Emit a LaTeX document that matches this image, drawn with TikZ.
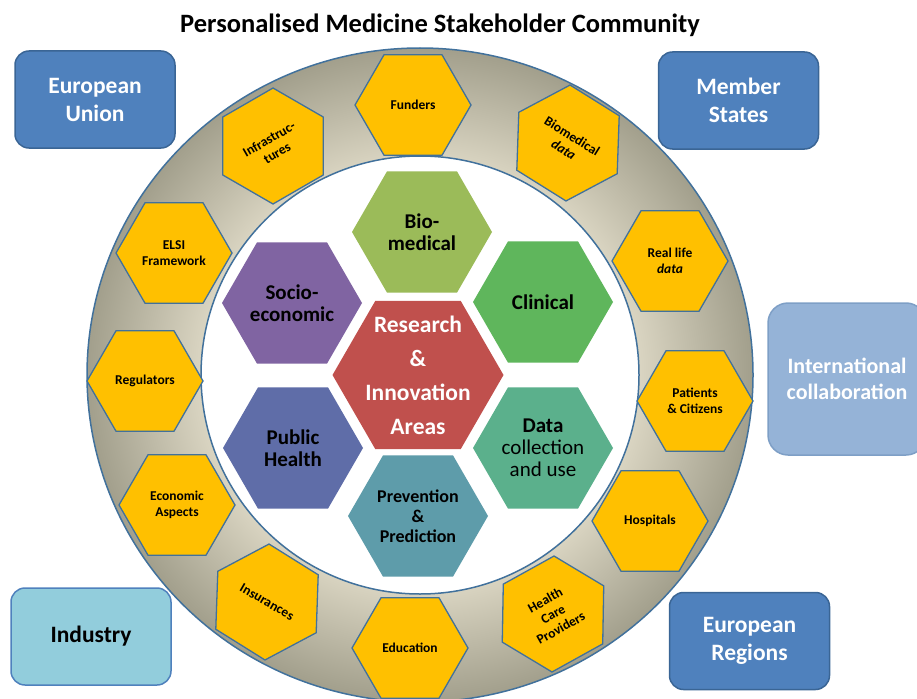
\documentclass[tikz,border=0pt]{standalone}
\usepackage{fontspec}
\setmainfont{Carlito}
\usetikzlibrary{shapes.geometric}

\definecolor{hexyellow}{HTML}{FFC000}
\definecolor{hexedge}{HTML}{41719C}
\definecolor{ringdark}{HTML}{A29F8C}
\definecolor{ringlight}{HTML}{DAD5C2}
\definecolor{ringedge}{HTML}{41719C}
\definecolor{boxblue}{HTML}{4F81BD}
\definecolor{boxedge}{HTML}{3A6595}
\definecolor{boxlight}{HTML}{95B3D7}
\definecolor{boxcyan}{HTML}{92CDDC}
\definecolor{biomed}{HTML}{9BBB59}
\definecolor{clinical}{HTML}{5FB65C}
\definecolor{socio}{HTML}{8064A2}
\definecolor{research}{HTML}{C0504D}
\definecolor{publichealth}{HTML}{5F6DA8}
\definecolor{datause}{HTML}{5BB08C}
\definecolor{prevent}{HTML}{5E9CAA}

% light band at the inner edge, darker towards the outer edge
\pgfdeclareradialshading{ringshading}{\pgfpoint{0bp}{0bp}}{color(0bp)=(ringlight); color(16.4bp)=(ringlight); color(25bp)=(ringdark); color(50bp)=(ringdark)}

\tikzset{hex/.style={regular polygon, regular polygon sides=6, inner sep=0pt, draw=none},
  ringhex/.style={hex, minimum size=116pt, fill=hexyellow, draw=hexedge, line width=1.3pt},
  areahex/.style={hex, minimum size=140pt, fill=#1},
  ringtxt/.style={font=\fontsize{13.5}{16}\selectfont\bfseries, align=center, inner sep=0pt},
  areatxt/.style={font=\fontsize{21}{22}\selectfont\bfseries, align=center, inner sep=0pt},
  actor/.style={rounded corners=14pt, minimum width=160pt, minimum height=97pt, fill=boxblue,
    draw=boxedge, line width=1.5pt, text=white, align=center, font=\fontsize{23.5}{28}\selectfont\bfseries}}

\begin{document}
\begin{tikzpicture}[x=1pt, y=-1pt]
\useasboundingbox (0,0) rectangle (917,698);

% stakeholder ring
\coordinate (c) at (420,375);
\shade[shading=ringshading, even odd rule] (c) ellipse [x radius=333pt, y radius=327pt] (c) circle [radius=219pt];
\draw[ringedge, line width=1.5pt] (c) ellipse [x radius=333pt, y radius=327pt];
\draw[ringedge, line width=1.5pt, fill=white] (c) circle [radius=219pt];

% stakeholders
\node[ringhex, label={[ringtxt]center:Funders}] (funders) at (413,105) {};
\node[ringhex, shape border rotate=30, label={[ringtxt, rotate=30]center:Infrastruc-\\tures}] (infra) at (273,146) {};
\node[ringhex, shape border rotate=-32, label={[ringtxt, rotate=-32]center:Biomedical\\\textit{data}}] (biodata) at (568,143) {};
\node[ringhex, label={[ringtxt]center:Real life\\\textit{data}}] (reallife) at (670,261) {};
\node[ringhex, label={[ringtxt]center:Patients\\\& Citizens}] (patients) at (695,401) {};
\node[ringhex, label={[ringtxt]center:Hospitals}] (hospitals) at (650,521) {};
\node[ringhex, shape border rotate=29, label={[ringtxt, rotate=29]center:Health\\Care\\Providers}] (care) at (553,614) {};
\node[ringhex, label={[ringtxt]center:Education}] (education) at (410,648) {};
\node[ringhex, shape border rotate=-32, label={[ringtxt, rotate=-30]center:Insurances}] (insurances) at (267,602) {};
\node[ringhex, label={[ringtxt]center:Economic\\Aspects}] (economic) at (177,505) {};
\node[ringhex, label={[ringtxt]center:Regulators}] (regulators) at (145,381) {};
\node[ringhex, label={[ringtxt]center:ELSI\\Framework}] (elsi) at (174,253) {};

% research areas
\node[areahex=biomed, label={[areatxt]center:Bio-\\medical}] (biomedical) at (422,232) {};
\node[areahex=socio, label={[areatxt]center:Socio-\\economic}] (socio) at (292,303) {};
\node[areahex=clinical, label={[areatxt]center:Clinical}] (clinical) at (543,302) {};
\node[areahex=publichealth, label={[areatxt]center:Public\\Health}] (public) at (293,448) {};
\node[areahex=datause, label={[areatxt, font=\fontsize{21}{22}\selectfont]center:\textbf{Data}\\collection\\and use}] (data) at (543,448) {};
\node[areahex=prevent, label={[areatxt, font=\fontsize{18}{20}\selectfont\bfseries]center:Prevention\\\&\\Prediction}] (prevention) at (418,516) {};
\node[areahex=research, minimum size=171pt, label={[areatxt, text=white, font=\fontsize{23.5}{34}\selectfont\bfseries]center:Research\\\&\\Innovation\\Areas}] (research) at (418,375) {};

% policy levels
\node[actor] (eu) at (95,99.5) {European\\Union};
\node[actor] (member) at (738.5,100.5) {Member\\States};
\node[actor, fill=boxlight, draw=boxlight!75!boxedge, minimum width=158pt, minimum height=152pt, rounded corners=20pt,
  font=\fontsize{22}{26}\selectfont\bfseries] (intl) at (847,379) {International\\collaboration};
\node[actor, fill=boxcyan, draw=boxblue, text=black] (industry) at (91,636.5) {Industry};
\node[actor] (regions) at (749.5,641) {European\\Regions};

\node[font=\fontsize{26.5}{30}\selectfont\bfseries] (title) at (440,25) {Personalised Medicine Stakeholder Community};
\end{tikzpicture}
\end{document}
